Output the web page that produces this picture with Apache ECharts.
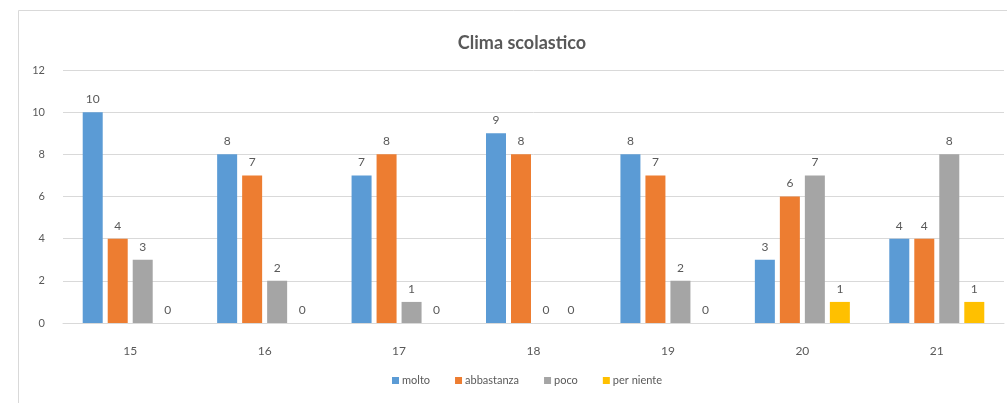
<!DOCTYPE html>
<html><head><meta charset="utf-8">
<script src="https://cdn.jsdelivr.net/npm/echarts@6/dist/echarts.min.js"></script>
<style>html,body{margin:0;padding:0;background:#fff}#c{width:1007px;height:403px}</style>
</head><body><div id="c"></div>
<script>
const categories = ['15','16','17','18','19','20','21'];
const seriesNames = ['molto','abbastanza','poco','per niente'];
const molto = [10,8,7,9,8,3,4];
const abbastanza = [4,7,8,8,7,6,4];
const poco = [3,2,1,0,2,7,8];
const perNiente = [0,0,0,0,0,1,1];
const colors = ['#5B9BD5','#ED7D31','#A5A5A5','#FFC000'];
const values = [molto, abbastanza, poco, perNiente];
const txt = '#595959';
const font = 'Lato, "Open Sans", sans-serif';
const chart = echarts.init(document.getElementById('c'));
chart.setOption({
  animation:false,
  textStyle:{fontFamily:font},
  graphic:[{type:'rect',shape:{x:18.5,y:10.5,width:1100,height:500},style:{fill:'none',stroke:'#D9D9D9',lineWidth:1}}],
  title:{text:'Clima scolastico',left:517,textAlign:'center',top:29,textStyle:{fontFamily:font,fontSize:18,fontWeight:'bold',color:txt}},
  legend:{data:seriesNames,left:387,top:370,icon:'rect',itemWidth:7,itemHeight:7,itemGap:25,textStyle:{fontFamily:font,fontSize:11,color:txt,padding:[0,0,0,-2]}},
  grid:{left:63,right:3,top:70,bottom:80},
  xAxis:{type:'category',data:categories,axisLine:{lineStyle:{color:'#D9D9D9'}},axisTick:{show:false},axisLabel:{color:txt,fontSize:12,margin:22}},
  yAxis:{type:'value',min:0,max:12,interval:2,axisLine:{show:false},axisTick:{show:false},splitLine:{lineStyle:{color:'#D9D9D9'}},axisLabel:{color:txt,fontSize:11,margin:18}},
  series: seriesNames.map((n,i)=>({name:n,type:'bar',data:values[i],barWidth:20,barGap:'25%',itemStyle:{color:colors[i]},label:{show:true,position:'top',color:txt,fontSize:12,distance:7}}))
});
</script></body></html>
